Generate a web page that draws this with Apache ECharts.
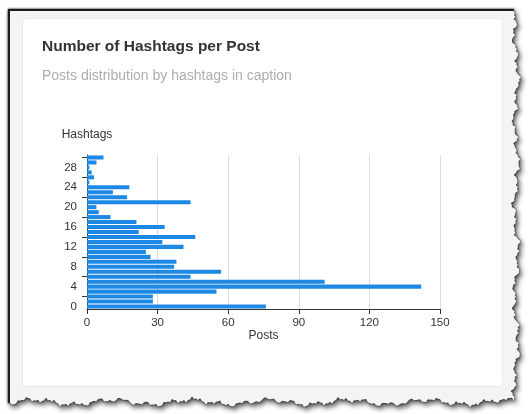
<!DOCTYPE html>
<html>
<head>
<meta charset="utf-8">
<script src="https://cdn.jsdelivr.net/npm/echarts@6/dist/echarts.min.js"></script>
<style>
  html, body { margin: 0; padding: 0; width: 530px; height: 414px; background: #fff; overflow: hidden; }
  #paper { position: absolute; left: 8px; top: 9px; width: 516px; height: 402px;
           filter: drop-shadow(0 0 1.2px rgba(0,0,0,0.95)) drop-shadow(2px 3px 2.5px rgba(0,0,0,0.65)); }
  #sheet { position: absolute; left: 0; top: 0; width: 100%; height: 100%; box-sizing: border-box;
           background: #f4f4f4; border-left: 2px solid #1c1c1c; border-top: 2px solid #1c1c1c; }
  #card { position: absolute; left: 12px; top: 7px; width: 481px; height: 369px; box-sizing: border-box;
          background: #fff; border: 1px solid #e9e9e9; border-radius: 4px; }
  #chart { position: absolute; left: 0; top: 0; width: 530px; height: 414px; }
</style>
</head>
<body>
<div id="paper"><div id="sheet"><div id="card"></div></div></div>
<div id="chart"></div>
<script>
// Hashtag counts per caption (y categories) and number of posts for each count
const hashtagCounts = ['0','1','2','3','4','5','6','7','8','9','10','11','12','13','14','15',
                       '16','17','18','19','20','21','22','23','24','25','26','27','28','29','30'];
const postCounts = [76, 28, 28, 55, 142, 101, 44, 57, 37, 38, 27, 25, 41, 32, 46, 22,
                    33, 21, 10, 5, 4, 44, 17, 11, 18, 1, 3, 2, 1, 4, 7];
const postTicks = [0, 30, 60, 90, 120, 150];

const chartTitle = 'Number of Hashtags per Post';
const chartSubtitle = 'Posts distribution by hashtags in caption';

// Rough, torn right and bottom edges of the paper sheet
(function tearEdges() {
  const w = 516, h = 402;
  const rough = t => 2.0 * Math.sin(t * 0.071 + 0.4) + 1.6 * Math.sin(t * 0.23 + 1.9) +
                     1.1 * Math.sin(t * 0.61 + 0.7) + 0.8 * Math.sin(t * 1.37 + 2.6) +
                     0.6 * Math.sin(t * 2.71 + 1.1);
  const pts = ['0px 0px'];
  for (let y = 0; y <= h - 9; y += 2) {
    pts.push((w - 8 + rough(y + 37)).toFixed(1) + 'px ' + y + 'px');
  }
  for (let x = w - 10; x >= 0; x -= 2) {
    pts.push(x + 'px ' + (h - 9 + rough(x * 1.13 + 211)).toFixed(1) + 'px');
  }
  document.getElementById('sheet').style.clipPath = 'polygon(' + pts.join(',') + ')';
})();

const font = "'Liberation Sans', Arial, Helvetica, sans-serif";
const chart = echarts.init(document.getElementById('chart'), null, { renderer: 'canvas' });

chart.setOption({
  backgroundColor: 'transparent',
  animation: false,
  textStyle: { fontFamily: font },
  title: [
    { text: chartTitle, left: 37, top: 34,
      textStyle: { fontFamily: font, fontSize: 15.5, fontWeight: 'bold', color: '#333' } },
    { text: chartSubtitle, left: 37, top: 64,
      textStyle: { fontFamily: font, fontSize: 14, fontWeight: 'normal', color: '#adadad' } }
  ],
  grid: { left: 87, right: 90, top: 155, bottom: 105, containLabel: false },
  xAxis: {
    type: 'value',
    min: postTicks[0],
    max: postTicks[postTicks.length - 1],
    interval: postTicks[1] - postTicks[0],
    name: 'Posts',
    nameLocation: 'middle',
    nameGap: 21,
    nameTextStyle: { fontFamily: font, fontSize: 12, color: '#333' },
    axisLine: { show: true, lineStyle: { color: '#333', width: 1 } },
    axisTick: { show: true, length: 5, lineStyle: { color: '#333' } },
    axisLabel: { fontFamily: font, fontSize: 11.5, color: '#333', margin: 8 },
    splitLine: { show: true, lineStyle: { color: '#dcdcdc', width: 1 } }
  },
  yAxis: {
    type: 'category',
    data: hashtagCounts,
    boundaryGap: true,
    name: 'Hashtags',
    nameLocation: 'end',
    nameGap: 14,
    nameTextStyle: { fontFamily: font, fontSize: 12, color: '#333', align: 'center' },
    axisLine: { show: true, lineStyle: { color: '#333', width: 1 } },
    axisTick: { show: true, length: 5, alignWithLabel: true,
                interval: function (i) { return i % 4 === 2; },
                lineStyle: { color: '#333' } },
    axisLabel: { fontFamily: font, fontSize: 11.5, color: '#333', margin: 10,
                 interval: function (i) { return i % 4 === 0; } },
    splitLine: { show: false }
  },
  series: [{
    type: 'bar',
    data: postCounts,
    barCategoryGap: '18%',
    itemStyle: { color: '#1e88e5' }
  }]
});
</script>
</body>
</html>
